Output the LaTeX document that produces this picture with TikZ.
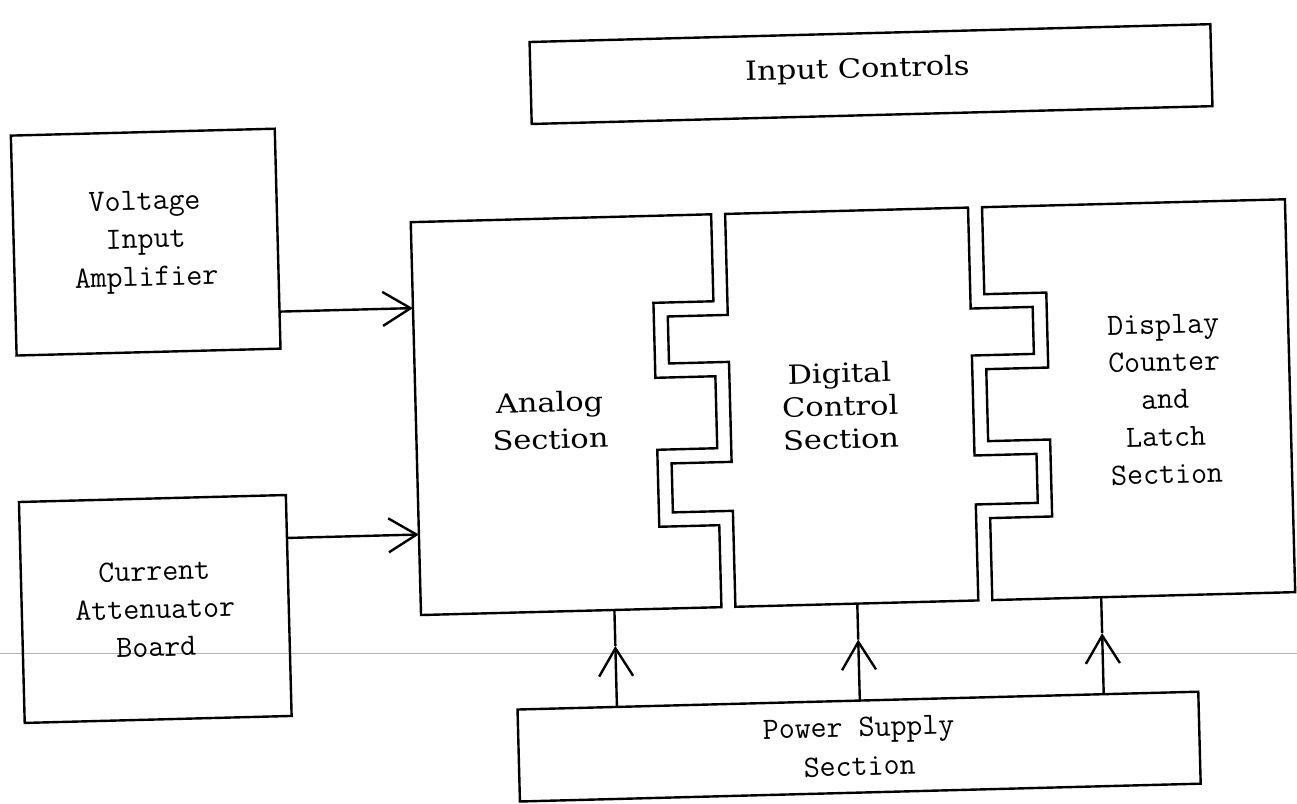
\documentclass[tikz,border=0pt]{standalone}
\usepackage{fontspec}
\newfontfamily\propf[FakeStretch=1.15]{DejaVu Serif}
\usetikzlibrary{arrows.meta}
\begin{document}
\begin{tikzpicture}[x=1pt,y=-1pt,
  ink/.style={line width=2.4pt, line join=miter},
  box/.style={draw, ink, inner sep=0pt, align=center},
  mono/.style={font=\ttfamily\fontsize{31}{38}\selectfont, align=center},
  prop/.style={font=\propf\fontsize{26.5}{37}\selectfont, align=center},
  arr/.style={ink, -{Straight Barb[length=28pt,width=34pt]}},
]
\useasboundingbox (0,0) rectangle (1297,803);
% faint ruled line of the scanned page
\draw[gray!60, line width=1pt] (0,653) -- (1297,653);

\begin{scope}[rotate around={1.5:(648.5,401.5)}, transform shape]
  % plain boxes
  \node[box, minimum width=681pt, minimum height=82pt] (inp) at (879.5,80) {};
  \node[prop] (inpt) at (866,76) {Input Controls};
  \node[box, mono, minimum width=264pt, minimum height=220pt] (volt) at (150,229) {Voltage\\Input\\Amplifier};
  \node[box, mono, minimum width=267pt, minimum height=221pt] (curr) at (150,596) {Current\\Attenuator\\Board};
  \node[box, mono, minimum width=681pt, minimum height=92pt, font=\ttfamily\fontsize{31}{39}\selectfont] (pow) at (850,752) {Power Supply\\Section};

  % interlocking sections
  \draw[ink] (415.5,216) -- (716,216) -- (716,303) -- (656,303) -- (656,378) -- (716,378)
     -- (716,450) -- (656,450) -- (656,527) -- (716,527) -- (716,609) -- (415.5,609) -- cycle;
  \draw[ink] (730,216) -- (973,216) -- (973,317) -- (1035,317) -- (1035,364) -- (973,364)
     -- (973,464) -- (1035,464) -- (1035,513) -- (973,513) -- (973,609) -- (730,609)
     -- (730,513) -- (670,513) -- (670,464) -- (730,464) -- (730,364) -- (670,364)
     -- (670,317) -- (730,317) -- cycle;
  \draw[ink] (987,216) -- (1290,216) -- (1290,609) -- (987,609) -- (987,527) -- (1049,527)
     -- (1049,450) -- (987,450) -- (987,378) -- (1049,378) -- (1049,303) -- (987,303) -- cycle;

  \node[prop] (analog) at (549.5,418) {Analog\\Section};
  \node[prop, font=\propf\fontsize{26.5}{33}\selectfont] (digital) at (840,411) {Digital\\Control\\Section};
  \node[mono, font=\ttfamily\fontsize{31}{37.5}\selectfont] (display) at (1165,413) {Display\\Counter\\and\\Latch\\Section};

  % connector end points
  \coordinate (v1) at (282,302);   \coordinate (a1) at (415.5,302);
  \coordinate (c1) at (283.5,528.5); \coordinate (a2) at (415.5,528.5);
  \coordinate (p1) at (609,706);  \coordinate (h1) at (609,645);  \coordinate (s1) at (609,609);
  \coordinate (p2) at (852,706);  \coordinate (h2) at (852,645);  \coordinate (s2) at (852,609);
  \coordinate (p3) at (1096,706); \coordinate (h3) at (1096,645); \coordinate (s3) at (1096,609);

  \draw[arr] (v1) -- (a1);
  \draw[arr] (c1) -- (a2);
  \draw[arr] (p1) -- (h1); \draw[ink] (h1) -- (s1);
  \draw[arr] (p2) -- (h2); \draw[ink] (h2) -- (s2);
  \draw[arr] (p3) -- (h3); \draw[ink] (h3) -- (s3);
\end{scope}
\end{tikzpicture}
\end{document}
